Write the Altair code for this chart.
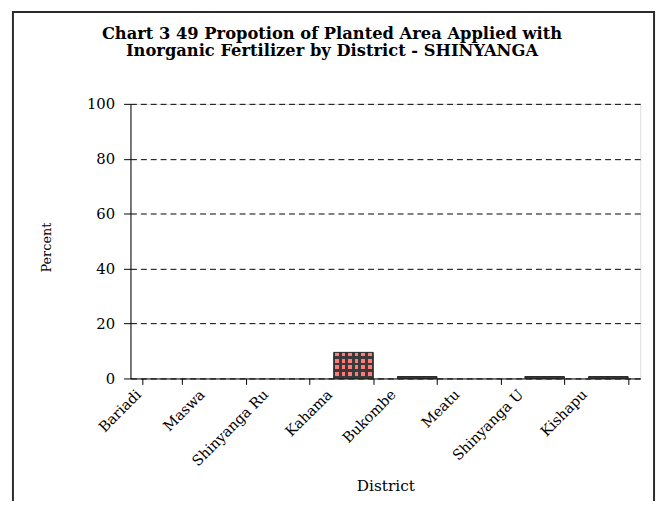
import altair as alt
import pandas as pd

districts = ["Bariadi", "Maswa", "Shinyanga Ru", "Kahama", "Bukombe", "Meatu", "Shinyanga U", "Kishapu"]
percent = [0.0, 0.0, 0.0, 9.5, 0.7, 0.0, 0.7, 0.7]
y_ticks = [0, 20, 40, 60, 80, 100]
title_lines = ["Chart 3 49 Propotion of Planted Area Applied with",
               "Inorganic Fertilizer by District - SHINYANGA"]

df = pd.DataFrame({"District": districts, "Percent": percent})

FONT = "DejaVu Serif"
DARK = "#3a3a3a"
PINK = "#ff7b7b"
CLEAR = "rgba(0,0,0,0)"


def stripes(n, on_color, off_color, start, stop, horizontal):
    stops = []
    for k in range(n):
        a = k / n
        stops += [
            {"offset": a, "color": off_color},
            {"offset": a + start / n, "color": off_color},
            {"offset": a + start / n, "color": on_color},
            {"offset": a + stop / n, "color": on_color},
            {"offset": a + stop / n, "color": off_color},
            {"offset": (k + 1) / n, "color": off_color},
        ]
    g = {"gradient": "linear", "stops": stops}
    if horizontal:
        g.update({"x1": 0, "y1": 0, "x2": 1, "y2": 0})
    else:
        g.update({"x1": 0, "y1": 0, "x2": 0, "y2": 1})
    return g


x_enc = alt.X(
    "District:N",
    sort=districts,
    scale=alt.Scale(domain=districts, paddingInner=0.38, paddingOuter=0.19),
    axis=alt.Axis(
        title="District",
        labelAngle=-45,
        labelAlign="right",
        labelBaseline="middle",
        labelOffset=-24,
        labelPadding=8,
        labelFont=FONT,
        labelFontSize=14.5,
        labelColor="black",
        tickBand="extent",
        tickSize=6,
        tickColor="black",
        domainColor="black",
        titleFont=FONT,
        titleFontSize=15.5,
        titleFontWeight="normal",
        titleColor="black",
        titleY=113,
        titleBaseline="alphabetic",
        labelOverlap=False,
        grid=False,
    ),
)
y_enc = alt.Y(
    "Percent:Q",
    scale=alt.Scale(domain=[0, 100], nice=False),
    axis=alt.Axis(
        title="Percent",
        values=y_ticks,
        labelFont=FONT,
        labelFontSize=15,
        labelColor="black",
        labelPadding=9,
        tickSize=7,
        tickColor="black",
        domainColor="black",
        grid=True,
        gridColor="black",
        gridDash=[6, 4],
        gridWidth=1,
        titleFont=FONT,
        titleFontSize=13,
        titleFontWeight="normal",
        titleColor="black",
        titleX=-85,
        titleY=145,
        titleAlign="center",
        titleBaseline="middle",
    ),
)

base = alt.Chart(df).transform_filter(alt.datum.Percent > 0)
bars_cols = base.mark_bar(fill=stripes(6, PINK, DARK, 0.2, 0.75, True)).encode(x=x_enc, y=y_enc)
bars_rows = base.mark_bar(
    fill=stripes(4, DARK, CLEAR, 0.6, 1.0, False), stroke="#222222", strokeWidth=1
).encode(x=x_enc, y=y_enc)

one = alt.Data(values=[{"k": 1}])

frame = alt.Chart(one).mark_rect(
    fillOpacity=0, stroke="#2b2b2b", strokeWidth=2, clip=False
).encode(
    x=alt.value(-119), x2=alt.value(530), y=alt.value(-93), y2=alt.value(420)
)

title = alt.Chart(one).mark_text(
    text=title_lines,
    font=FONT,
    fontSize=16.5,
    fontWeight="bold",
    color="black",
    align="center",
    baseline="alphabetic",
    lineHeight=18,
    clip=False,
).encode(x=alt.value(204), y=alt.value(-66))

chart = alt.layer(bars_cols, bars_rows, frame, title).properties(
    width=516,
    height=278,
    padding={"left": 124, "top": 94, "right": 17, "bottom": 121},
    autosize=alt.AutoSizeParams(type="none"),
).configure_view(stroke="#8c8c8c", strokeWidth=1).configure(background="white")

chart.save("out.html", embed_options={"renderer": "svg", "actions": False})
